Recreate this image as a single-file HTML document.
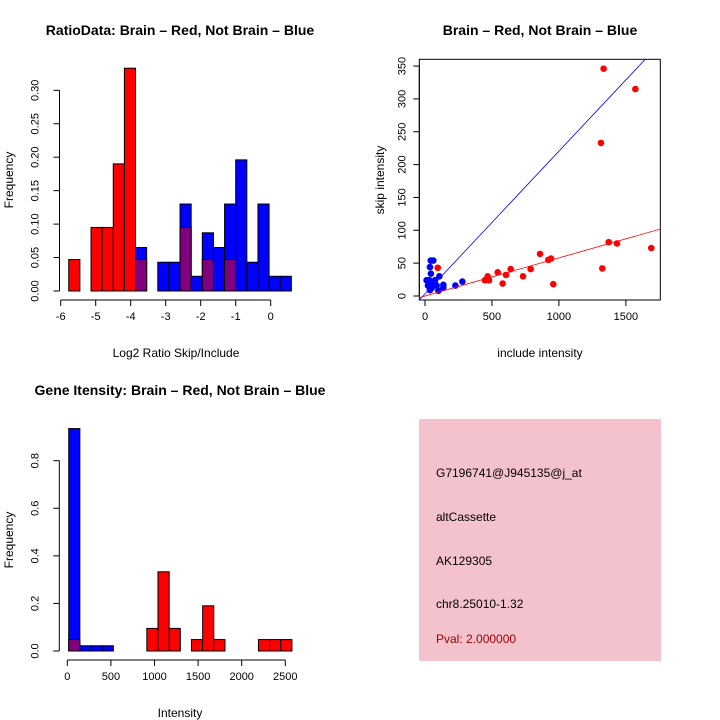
<!DOCTYPE html>
<html><head><meta charset="utf-8"><style>
body{margin:0;background:#fff;}
svg{display:block;font-family:"Liberation Sans",Helvetica,sans-serif;}
</style></head><body>
<svg id="s" width="720" height="720" viewBox="0 0 720 720">
<rect x="0" y="0" width="720" height="720" fill="#fff"/>
<text x="180" y="35" font-size="14" font-weight="bold" text-anchor="middle">RatioData: Brain – Red, Not Brain – Blue</text>
<text x="540" y="35" font-size="14" font-weight="bold" text-anchor="middle">Brain – Red, Not Brain – Blue</text>
<text x="180" y="395" font-size="14" font-weight="bold" text-anchor="middle">Gene Itensity: Brain – Red, Not Brain – Blue</text>
<text x="176" y="357" font-size="12" text-anchor="middle">Log2 Ratio Skip/Include</text>
<text x="13" y="180" font-size="12" text-anchor="middle" transform="rotate(-90 13 180)">Frequency</text>
<text x="540" y="357" font-size="12" text-anchor="middle">include intensity</text>
<text x="384" y="180" font-size="12" text-anchor="middle" transform="rotate(-90 384 180)">skip intensity</text>
<text x="180" y="717" font-size="12" text-anchor="middle">Intensity</text>
<text x="13" y="540" font-size="12" text-anchor="middle" transform="rotate(-90 13 540)">Frequency</text>
<g>
<rect x="419" y="419" width="242" height="242" fill="#f4c2cd"/>
<text x="436" y="477" font-size="12">G7196741@J945135@j_at</text>
<text x="436" y="521" font-size="12">altCassette</text>
<text x="436" y="565" font-size="12">AK129305</text>
<text x="436" y="608" font-size="12">chr8.25010-1.32</text>
<text x="436" y="643" font-size="12" fill="#a00000">Pval: 2.000000</text>
</g>
<g id="g1"></g><g id="g2"></g><g id="g3"></g>
</svg>
<script>
// Ratio histogram data
const ratioStart = -5.77, ratioWidth = 0.318;
const ratioRed  = [0.047,0,0.095,0.095,0.19,0.333,0.047,0,0,0,0.095,0,0.047,0,0.047,0,0,0,0,0];
const ratioBlue = [0,0,0,0,0,0,0.065,0,0.043,0.043,0.130,0.022,0.087,0.065,0.130,0.196,0.043,0.130,0.022,0.022];
const ratioXTicks = [-6,-5,-4,-3,-2,-1,0];
const ratioYTicks = [0,0.05,0.10,0.15,0.20,0.25,0.30];
const ratioYLabels = ["0.00","0.05","0.10","0.15","0.20","0.25","0.30"];
// Intensity histogram data
const intStart = 16, intWidth = 128;
const intRed  = [0.048,0,0,0,0,0,0,0.095,0.333,0.095,0,0.048,0.19,0.048,0,0,0,0.048,0.048,0.048];
const intBlue = [0.935,0.022,0.022,0.022,0,0,0,0,0,0,0,0,0,0,0,0,0,0,0,0];
const intXTicks = [0,500,1000,1500,2000,2500];
const intYTicks = [0,0.2,0.4,0.6,0.8];
const intYLabels = ["0.0","0.2","0.4","0.6","0.8"];
// Scatter data
const redX = [1334,1571,1314,1372,1434,1690,1324,859,921,941,789,732,958,640,605,543,580,468,478,448,95];
const redY = [346,315,233,82,80,73,42,64,55,57,41,30,18,41,32,36,19,30,24,24,43];
const blueX = [43,62,37,44,32,12,22,50,87,107,137,137,100,227,279,62,37,75];
const blueY = [54,54,44,34,24,24,16,12,16,30,17,13,8,16,22,19,9,24];
const blueFit = [3.4,0.217];
const redFit = [0,0.058];
const scXTicks = [0,500,1000,1500];
const scYTicks = [0,50,100,150,200,250,300,350];

const NS="http://www.w3.org/2000/svg";
function mk(p,tag,a){const e=document.createElementNS(NS,tag);for(const k in a)e.setAttribute(k,a[k]);p.appendChild(e);return e;}

function hist(g,start,width,red,blue,xs,ys,xt,yt,ylab,name){
  for(let i=0;i<red.length;i++){
    const x0=xs(start+i*width), x1=xs(start+(i+1)*width);
    const r=red[i], b=blue[i];
    const hi=Math.max(r,b), lo=Math.min(r,b);
    if(hi>0){
      const e=mk(g,'rect',{x:x0,y:ys(hi),width:x1-x0,height:ys(0)-ys(hi),fill:r>=b?'#ff0000':'#0000ff',stroke:'#000','stroke-width':1});
      
      
    }
    if(lo>0){
      const e=mk(g,'rect',{x:x0,y:ys(lo),width:x1-x0,height:ys(0)-ys(lo),fill:'#800080',stroke:'#000','stroke-width':1});
      
      
    }
  }
  axes(g,xs,ys,xt,yt,xt.map(String),ylab,name,undefined,undefined,21);
}
function axes(g,xs,ys,xt,yt,xlab,ylab,name,xAxisY,yAxisX,yOff){
  const ay = xAxisY!==undefined?xAxisY:ys(0)+9;
  const ax = yAxisX!==undefined?yAxisX:xs.axisX;
  const xa=mk(g,'line',{x1:xs(xt[0]),x2:xs(xt[xt.length-1]),y1:ay,y2:ay,stroke:'#000'});
  
  
  xt.forEach((v,i)=>{
    mk(g,'line',{x1:xs(v),x2:xs(v),y1:ay,y2:ay+6,stroke:'#000'});
    const t=mk(g,'text',{x:xs(v),y:ay+20,'font-size':11,'text-anchor':'middle'});
    t.textContent=xlab[i];
    
    
  });
  const ya=mk(g,'line',{x1:ax,x2:ax,y1:ys(yt[0]),y2:ys(yt[yt.length-1]),stroke:'#000'});
  
  
  yt.forEach((v,i)=>{
    mk(g,'line',{x1:ax-6,x2:ax,y1:ys(v),y2:ys(v),stroke:'#000'});
    const tx=ax-yOff, ty=ys(v);
    const t=mk(g,'text',{x:tx,y:ty,'font-size':11,'text-anchor':'middle',transform:`rotate(-90 ${tx} ${ty})`});
    t.textContent=ylab[i];
    
    
  });
}
// Plot 1
{
  const g=document.getElementById('g1');
  const xs=v=>60.7+(v+6)*35; xs.axisX=59.5;
  const ys=v=>291-v*669;
  hist(g,ratioStart,ratioWidth,ratioRed,ratioBlue,xs,ys,ratioXTicks,ratioYTicks,ratioYLabels,'ratio');
}
// Plot 3
{
  const g=document.getElementById('g3');
  const xs=v=>67.3+v*0.0872; xs.axisX=59.3;
  const ys=v=>651-v*237.9;
  hist(g,intStart,intWidth,intRed,intBlue,xs,ys,intXTicks,intYTicks,intYLabels,'intensity');
}
// Plot 2
{
  const g=document.getElementById('g2');
  const xs=v=>425+v*0.1339;
  const ys=v=>296-v*0.657;
  const L=419.3,R=660.3,T=59.3,B=300;
  const frame=mk(g,'rect',{x:L,y:T,width:R-L,height:B-T,fill:'none',stroke:'#000'});
  
  
  mk(g,'clipPath',{id:'cp'}).appendChild(document.createElementNS(NS,'rect'));
  const cr=document.querySelector('#cp rect');cr.setAttribute('x',L);cr.setAttribute('y',T);cr.setAttribute('width',R-L);cr.setAttribute('height',B-T);
  const cg=mk(g,'g',{'clip-path':'url(#cp)'});
  const xmin=-100,xmax=1900;
  redX.forEach((v,i)=>{
    const c=mk(cg,'circle',{cx:xs(v),cy:ys(redY[i]),r:3.3,fill:'#ff0000'});
    
    
  });
  blueX.forEach((v,i)=>{
    const c=mk(cg,'circle',{cx:xs(v),cy:ys(blueY[i]),r:3.3,fill:'#0000ff'});
    
    
  });
  const bl=mk(cg,'line',{x1:xs(xmin),y1:ys(blueFit[0]+blueFit[1]*xmin),x2:xs(xmax),y2:ys(blueFit[0]+blueFit[1]*xmax),stroke:'#0000ff','stroke-width':0.8});
  
  
  const rl=mk(cg,'line',{x1:xs(xmin),y1:ys(redFit[0]+redFit[1]*xmin),x2:xs(xmax),y2:ys(redFit[0]+redFit[1]*xmax),stroke:'#ff0000','stroke-width':0.8});
  
  
  axes(g,xs,ys,scXTicks,scYTicks,scXTicks.map(String),scYTicks.map(String),'scatter',B,L,14);
}
</script>
</body></html>
